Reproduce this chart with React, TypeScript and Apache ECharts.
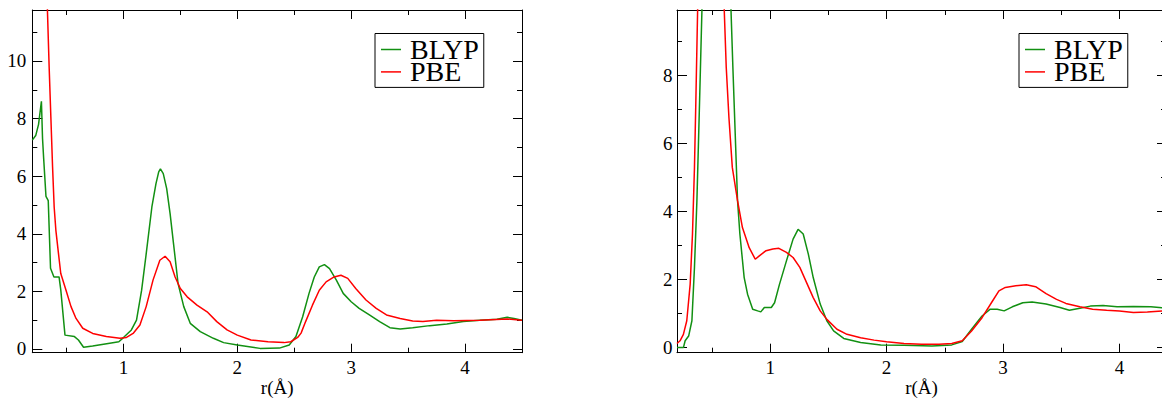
import React, { useEffect, useRef } from 'react';
import * as echarts from 'echarts';

// ---------- data ----------
const seriesNames = ['BLYP', 'PBE'];
const xName = 'r(Å)';

const blypLeft: number[][] = [
  [0.2, 7.25], [0.23, 7.41], [0.255, 7.8], [0.28, 8.6], [0.29, 7.3], [0.3, 6.6], [0.32, 5.3], [0.34, 5.15],
  [0.36, 2.8], [0.39, 2.5], [0.435, 2.5], [0.45, 2.05], [0.487, 0.48], [0.57, 0.43], [0.605, 0.31], [0.65, 0.06],
  [0.73, 0.1], [0.88, 0.2], [0.96, 0.25], [1.01, 0.43], [1.07, 0.66], [1.115, 1.0], [1.16, 2.04], [1.2, 3.3],
  [1.25, 4.93], [1.286, 5.74], [1.31, 6.15], [1.325, 6.25], [1.35, 6.09], [1.38, 5.57], [1.41, 4.7], [1.44, 3.66],
  [1.48, 2.27], [1.53, 1.47], [1.587, 0.89], [1.675, 0.6], [1.79, 0.37], [1.88, 0.22], [2.0, 0.14], [2.2, 0.02],
  [2.37, 0.03], [2.456, 0.14], [2.515, 0.43], [2.574, 1.12], [2.63, 1.93], [2.676, 2.5], [2.72, 2.85], [2.765, 2.93],
  [2.81, 2.79], [2.87, 2.39], [2.93, 1.93], [3.0, 1.64], [3.07, 1.41], [3.16, 1.18], [3.25, 0.95], [3.34, 0.74],
  [3.43, 0.69], [3.54, 0.74], [3.69, 0.81], [3.84, 0.87], [3.985, 0.95], [4.13, 1.0], [4.28, 1.03], [4.37, 1.1],
  [4.43, 1.06], [4.5, 1.0],
];

const pbeLeft: number[][] = [
  [0.25, 30], [0.3, 17], [0.333, 11.74], [0.348, 9.78], [0.363, 8.05], [0.378, 6.32], [0.392, 4.93], [0.407, 4.12],
  [0.43, 3.31], [0.45, 2.62], [0.496, 2.04], [0.54, 1.47], [0.584, 1.06], [0.643, 0.72], [0.73, 0.54], [0.85, 0.43],
  [0.97, 0.37], [1.027, 0.4], [1.085, 0.54], [1.145, 0.83], [1.2, 1.47], [1.26, 2.39], [1.32, 3.08], [1.366, 3.22],
  [1.41, 3.03], [1.454, 2.5], [1.5, 2.1], [1.56, 1.81], [1.646, 1.52], [1.735, 1.29], [1.82, 0.95], [1.91, 0.66],
  [2.0, 0.48], [2.12, 0.31], [2.27, 0.25], [2.41, 0.22], [2.47, 0.25], [2.53, 0.4], [2.56, 0.55], [2.6, 0.95],
  [2.66, 1.52], [2.72, 2.04], [2.78, 2.33], [2.85, 2.5], [2.91, 2.56], [2.97, 2.45], [3.04, 2.1], [3.13, 1.7],
  [3.22, 1.41], [3.31, 1.18], [3.43, 1.06], [3.54, 0.97], [3.63, 0.95], [3.75, 1.0], [3.9, 0.98], [4.13, 1.0],
  [4.37, 1.04], [4.5, 1.0],
];

const blypRight: number[][] = [
  [0.2, 0.0], [0.255, 0.0], [0.27, 0.2], [0.3, 0.34], [0.328, 0.79], [0.35, 2.36], [0.371, 4.32], [0.394, 7.26],
  [0.414, 9.91], [0.44, 15], [0.5, 22], [0.56, 23], [0.62, 14.5], [0.664, 9.91], [0.68, 8.24], [0.7, 6.28],
  [0.72, 4.32], [0.74, 3.34], [0.777, 2.06], [0.806, 1.57], [0.85, 1.13], [0.893, 1.08], [0.92, 1.05], [0.95, 1.18],
  [1.01, 1.18], [1.038, 1.32], [1.08, 1.86], [1.14, 2.55], [1.197, 3.19], [1.24, 3.48], [1.284, 3.34], [1.328, 2.75],
  [1.37, 2.06], [1.43, 1.28], [1.487, 0.79], [1.545, 0.49], [1.632, 0.27], [1.777, 0.15], [1.95, 0.08], [2.15, 0.07],
  [2.39, 0.05], [2.56, 0.08], [2.65, 0.18], [2.73, 0.54], [2.82, 0.93], [2.89, 1.13], [2.95, 1.13], [3.01, 1.08],
  [3.08, 1.2], [3.17, 1.32], [3.25, 1.34], [3.37, 1.28], [3.49, 1.18], [3.57, 1.1], [3.66, 1.16], [3.75, 1.22],
  [3.86, 1.24], [3.98, 1.2], [4.12, 1.21], [4.27, 1.2], [4.4, 1.16],
];

const pbeRight: number[][] = [
  [0.2, 0.12], [0.226, 0.2], [0.255, 0.39], [0.284, 0.79], [0.313, 1.86], [0.333, 3.34], [0.35, 5.3], [0.362, 7.26],
  [0.377, 9.91], [0.4, 14], [0.45, 22], [0.5, 24], [0.55, 19], [0.58, 14], [0.606, 9.91], [0.623, 8.24],
  [0.646, 6.77], [0.675, 5.3], [0.72, 4.32], [0.762, 3.53], [0.82, 2.94], [0.872, 2.6], [0.907, 2.7], [0.965, 2.85],
  [1.023, 2.9], [1.075, 2.92], [1.14, 2.8], [1.197, 2.65], [1.255, 2.36], [1.313, 1.91], [1.37, 1.47], [1.43, 1.08],
  [1.487, 0.83], [1.574, 0.54], [1.66, 0.39], [1.777, 0.29], [1.893, 0.22], [2.0, 0.17], [2.15, 0.12], [2.3, 0.1],
  [2.45, 0.1], [2.56, 0.12], [2.65, 0.2], [2.73, 0.49], [2.82, 0.88], [2.91, 1.37], [2.965, 1.67], [3.02, 1.77],
  [3.11, 1.82], [3.2, 1.85], [3.28, 1.79], [3.37, 1.59], [3.46, 1.42], [3.54, 1.3], [3.66, 1.2], [3.77, 1.13],
  [3.89, 1.1], [4.0, 1.08], [4.12, 1.03], [4.24, 1.05], [4.4, 1.08],
];

const xMajorTicks = [1, 2, 3, 4];
const xMinorTicks = [0.5, 1.5, 2.5, 3.5, 4.5];
const yMajorLeft = [0, 2, 4, 6, 8, 10];
const yMinorLeft = [1, 3, 5, 7, 9, 11];
const yMajorRight = [0, 2, 4, 6, 8];
const yMinorRight = [1, 3, 5, 7, 9];

// ---------- styling ----------
const FONT = 'Liberation Serif';
const GREEN = '#129012';
const RED = '#ff0000';
const INK = '#000';

function xAxes(g: number, min: number, max: number) {
  const base = { type: 'value', gridIndex: g, min, max, splitLine: { show: false } };
  return [
    {
      ...base, position: 'bottom',
      axisLine: { show: true, onZero: false, lineStyle: { color: INK, width: 1 } },
      axisTick: { show: true, inside: true, length: 9, customValues: xMajorTicks, lineStyle: { color: INK } },
      axisLabel: { show: true, customValues: xMajorTicks, margin: 5, fontFamily: FONT, fontSize: 19, color: INK },
      name: xName, nameLocation: 'middle', nameGap: 25, nameMoveOverlap: false,
      nameTextStyle: { fontFamily: FONT, fontSize: 19, color: INK },
    },
    {
      ...base, position: 'bottom',
      axisLine: { show: false, onZero: false },
      axisTick: { show: true, inside: true, length: 5, customValues: xMinorTicks, lineStyle: { color: INK } },
      axisLabel: { show: false },
    },
    {
      ...base, position: 'top',
      axisLine: { show: true, onZero: false, lineStyle: { color: INK, width: 1 } },
      axisTick: { show: true, inside: true, length: 9, customValues: xMajorTicks, lineStyle: { color: INK } },
      axisLabel: { show: false },
    },
    {
      ...base, position: 'top',
      axisLine: { show: false, onZero: false },
      axisTick: { show: true, inside: true, length: 5, customValues: xMinorTicks, lineStyle: { color: INK } },
      axisLabel: { show: false },
    },
  ];
}

function yAxes(g: number, min: number, max: number, major: number[], minor: number[], labelMargin: number) {
  const base = { type: 'value', gridIndex: g, min, max, splitLine: { show: false } };
  return [
    {
      ...base, position: 'left',
      axisLine: { show: true, onZero: false, lineStyle: { color: INK, width: 1 } },
      axisTick: { show: true, inside: true, length: 10, customValues: major, lineStyle: { color: INK } },
      axisLabel: { show: true, customValues: major, margin: labelMargin, fontFamily: FONT, fontSize: 19, color: INK },
    },
    {
      ...base, position: 'left',
      axisLine: { show: false, onZero: false },
      axisTick: { show: true, inside: true, length: 5, customValues: minor, lineStyle: { color: INK } },
      axisLabel: { show: false },
    },
    {
      ...base, position: 'right',
      axisLine: { show: true, onZero: false, lineStyle: { color: INK, width: 1 } },
      axisTick: { show: true, inside: true, length: 9, customValues: major, lineStyle: { color: INK } },
      axisLabel: { show: false },
    },
    {
      ...base, position: 'right',
      axisLine: { show: false, onZero: false },
      axisTick: { show: true, inside: true, length: 5, customValues: minor, lineStyle: { color: INK } },
      axisLabel: { show: false },
    },
  ];
}

function legendAt(left: number) {
  return {
    left, top: 33.5,
    orient: 'vertical',
    data: seriesNames,
    icon: 'rect',
    itemWidth: 20,
    itemHeight: 1.5,
    itemGap: -5.6,
    padding: [2, 5, 1.5, 6],
    borderColor: INK,
    borderWidth: 1,
    borderRadius: 0,
    backgroundColor: '#fff',
    selectedMode: false,
    textStyle: { fontFamily: FONT, fontSize: 28, color: INK, padding: [0, 0, 0, 4] },
  };
}

function lineSeries(name: string, data: number[][], color: string, axisIndex: number) {
  return {
    name, type: 'line', data,
    xAxisIndex: axisIndex, yAxisIndex: axisIndex,
    symbol: 'none', showSymbol: false,
    clip: true,
    lineStyle: { width: 1.5, color },
    itemStyle: { color },
    emphasis: { disabled: true },
  };
}

const option = {
  animation: false,
  backgroundColor: '#fff',
  textStyle: { fontFamily: FONT },
  grid: [
    { left: 32.3, top: 10, width: 489.7, height: 342.7, outerBoundsMode: 'none' },
    { left: 677, top: 10, width: 489, height: 342.7, outerBoundsMode: 'none' },
  ],
  xAxis: [...xAxes(0, 0.2, 4.5), ...xAxes(1, 0.2, 4.4)],
  yAxis: [
    ...yAxes(0, -0.13, 11.77, yMajorLeft, yMinorLeft, 6),
    ...yAxes(1, -0.15, 9.93, yMajorRight, yMinorRight, 4.5),
  ],
  legend: [legendAt(375), legendAt(1019)],
  series: [
    lineSeries('BLYP', blypLeft, GREEN, 0),
    lineSeries('PBE', pbeLeft, RED, 0),
    lineSeries('BLYP', blypRight, GREEN, 4),
    lineSeries('PBE', pbeRight, RED, 4),
  ],
};

export default function App() {
  const ref = useRef<HTMLDivElement>(null);
  useEffect(() => {
    if (!ref.current) return;
    const chart = echarts.init(ref.current, null, { renderer: 'svg' });
    chart.setOption(option as any);
    return () => chart.dispose();
  }, []);
  return (
    <div
      ref={ref}
      style={{ position: 'absolute', left: 0, top: 0, width: 1162, height: 398, overflow: 'hidden' }}
    />
  );
}
